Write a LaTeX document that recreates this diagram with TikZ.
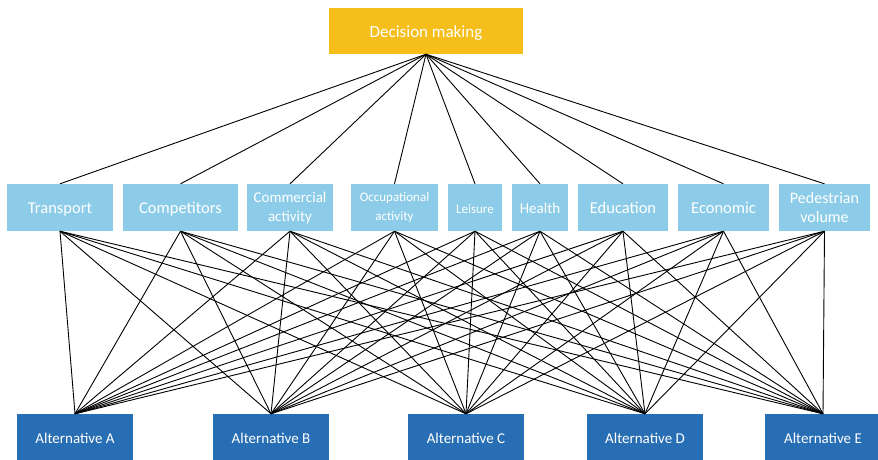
\documentclass[tikz,border=0pt]{standalone}
\usepackage{fontspec}
\setmainfont{Carlito}
\usetikzlibrary{positioning}
\definecolor{goalcol}{RGB}{246,190,26}
\definecolor{critcol}{RGB}{141,204,232}
\definecolor{altcol}{RGB}{40,110,180}

\begin{document}
\begin{tikzpicture}[x=1pt,y=-1pt,
  goalbox/.style={fill=goalcol, text=white, minimum width=194pt, minimum height=46pt, inner sep=0pt, text height=13pt, text depth=0pt, font=\fontsize{17}{19}\selectfont},
  critbox/.style={fill=critcol, text=white, minimum height=47pt, inner sep=0pt, align=center, font=\fontsize{16.5}{19}\selectfont},
  oneline/.style={text height=12pt, text depth=0pt},
  altbox/.style={fill=altcol, text=white, minimum width=116pt, minimum height=48pt, inner sep=0pt, font=\fontsize{15}{18}\selectfont},
  link/.style={draw=black, line width=0.9pt}]
\useasboundingbox (0,0) rectangle (878,459);
% goal on top
\node[goalbox] (goal) at (426,31) {Decision making};
% criteria row
\node[critbox, oneline, minimum width=106pt] (transport) at (60,207.5) {Transport};
\node[critbox, oneline, minimum width=115pt] (competitors) at (180.5,207.5) {Competitors};
\node[critbox, minimum width=86pt, font=\fontsize{15}{19}\selectfont] (commercial) at (290,207.5) {Commercial\\activity};
\node[critbox, minimum width=87pt, font=\fontsize{13}{19}\selectfont] (occupational) at (394.5,207.5) {Occupational\\activity};
\node[critbox, oneline, minimum width=54pt, font=\fontsize{13}{15}\selectfont] (leisure) at (475,207.5) {Leisure};
\node[critbox, oneline, minimum width=56pt, font=\fontsize{15}{18}\selectfont] (health) at (540,207.5) {Health};
\node[critbox, oneline, minimum width=90pt] (education) at (623,207.5) {Education};
\node[critbox, oneline, minimum width=91pt] (economic) at (723.5,207.5) {Economic};
\node[critbox, minimum width=91pt, font=\fontsize{16}{19}\selectfont] (pedestrian) at (824.5,207.5) {Pedestrian\\volume};
% alternatives row
\node[altbox] (altA) at (75,438) {Alternative A};
\node[altbox] (altB) at (271,438) {Alternative B};
\node[altbox] (altC) at (466,438) {Alternative C};
\node[altbox] (altD) at (645,438) {Alternative D};
\node[altbox] (altE) at (823,438) {Alternative E};
% goal to criteria
\foreach \c in {transport,competitors,commercial,occupational,leisure,health,education,economic,pedestrian}
  \draw[link] (goal.south) -- (\c.north);
% criteria to alternatives
\foreach \c in {transport,competitors,commercial,occupational,leisure,health,education,economic,pedestrian}
  \foreach \a in {altA,altB,altC,altD,altE}
    \draw[link] (\c.south) -- (\a.north);
\end{tikzpicture}
\end{document}
